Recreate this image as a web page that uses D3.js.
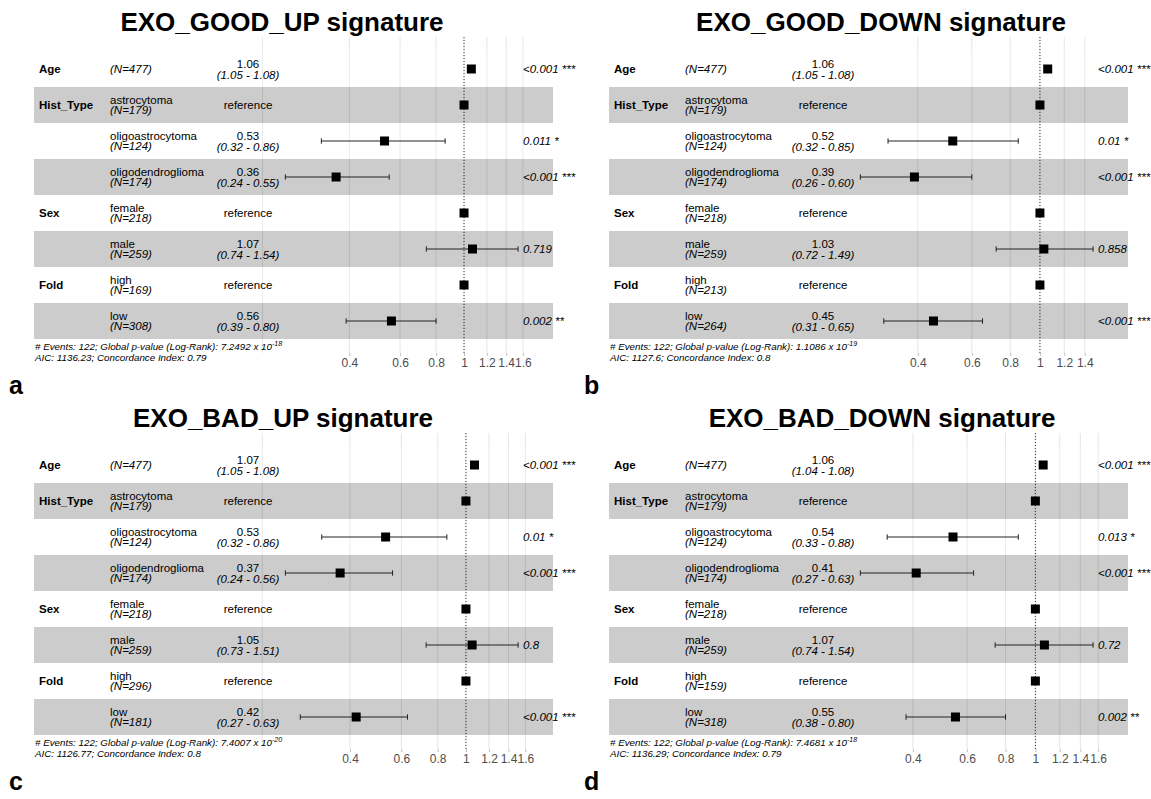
<!DOCTYPE html>
<html>
<head>
<meta charset="utf-8">
<script src="https://cdn.jsdelivr.net/npm/d3@7"></script>
<style>
  body { margin: 0; background: #fff; }
  svg { display: block; font-family: "Liberation Sans", Arial, sans-serif; }
</style>
</head>
<body>
<svg id="chart" width="1151" height="799"></svg>
<script>
"use strict";

// rows shared by all four models
const variables = ["Age", "Hist_Type", "", "", "Sex", "", "Fold", ""];
const levels = ["", "astrocytoma", "oligoastrocytoma", "oligodendroglioma", "female", "male", "high", "low"];

const titles = ["EXO_GOOD_UP signature", "EXO_GOOD_DOWN signature", "EXO_BAD_UP signature", "EXO_BAD_DOWN signature"];
const letters = ["a", "b", "c", "d"];

// N per row
const countsA = [477, 179, 124, 174, 218, 259, 169, 308];
const countsB = [477, 179, 124, 174, 218, 259, 213, 264];
const countsC = [477, 179, 124, 174, 218, 259, 296, 181];
const countsD = [477, 179, 124, 174, 218, 259, 159, 318];

// hazard ratios, null = reference level
const hrA = [1.06, null, 0.53, 0.36, null, 1.07, null, 0.56];
const hrB = [1.06, null, 0.52, 0.39, null, 1.03, null, 0.45];
const hrC = [1.07, null, 0.53, 0.37, null, 1.05, null, 0.42];
const hrD = [1.06, null, 0.54, 0.41, null, 1.07, null, 0.55];

const lowA = [1.05, null, 0.32, 0.24, null, 0.74, null, 0.39];
const lowB = [1.05, null, 0.32, 0.26, null, 0.72, null, 0.31];
const lowC = [1.05, null, 0.32, 0.24, null, 0.73, null, 0.27];
const lowD = [1.04, null, 0.33, 0.27, null, 0.74, null, 0.38];

const highA = [1.08, null, 0.86, 0.55, null, 1.54, null, 0.80];
const highB = [1.08, null, 0.85, 0.60, null, 1.49, null, 0.65];
const highC = [1.08, null, 0.86, 0.56, null, 1.51, null, 0.63];
const highD = [1.08, null, 0.88, 0.63, null, 1.54, null, 0.80];

const pvalA = ["<0.001 ***", "", "0.011 *", "<0.001 ***", "", "0.719", "", "0.002 **"];
const pvalB = ["<0.001 ***", "", "0.01 *", "<0.001 ***", "", "0.858", "", "<0.001 ***"];
const pvalC = ["<0.001 ***", "", "0.01 *", "<0.001 ***", "", "0.8", "", "<0.001 ***"];
const pvalD = ["<0.001 ***", "", "0.013 *", "<0.001 ***", "", "0.72", "", "0.002 **"];

// footnotes
const events = [122, 122, 122, 122];
const logRankBase = ["7.2492", "1.1086", "7.4007", "7.4681"];
const logRankExp = ["-18", "-19", "-20", "-18"];
const aic = ["1136.23", "1127.6", "1126.77", "1136.29"];
const concordance = ["0.79", "0.8", "0.8", "0.79"];

// axis breaks (grid) and the ones that carry a label
const gridA = [0.2, 0.4, 0.6, 0.8, 1, 1.2, 1.4, 1.6];
const gridB = [0.4, 0.6, 0.8, 1, 1.2, 1.4];
const gridC = [0.2, 0.4, 0.6, 0.8, 1, 1.2, 1.4, 1.6];
const gridD = [0.4, 0.6, 0.8, 1, 1.2, 1.4, 1.6];
const labelsA = [0.4, 0.6, 0.8, 1, 1.2, 1.4, 1.6];
const labelsB = [0.4, 0.6, 0.8, 1, 1.2, 1.4];
const labelsC = [0.4, 0.6, 0.8, 1, 1.2, 1.4, 1.6];
const labelsD = [0.4, 0.6, 0.8, 1, 1.2, 1.4, 1.6];

const panels = [
  { counts: countsA, hr: hrA, low: lowA, high: highA, pval: pvalA, grid: gridA, labels: labelsA },
  { counts: countsB, hr: hrB, low: lowB, high: highB, pval: pvalB, grid: gridB, labels: labelsB },
  { counts: countsC, hr: hrC, low: lowC, high: highC, pval: pvalC, grid: gridC, labels: labelsC },
  { counts: countsD, hr: hrD, low: lowD, high: highD, pval: pvalD, grid: gridD, labels: labelsD },
];

const origins = [[0, 0], [575, 0], [0, 396], [575, 396]];
const titleX = [282, 306, 283, 307];

const bandLeft = 34;
const bandRight = 553;
const rowTop = 51;
const rowH = 36;
const panelTop = 37;
const panelBottom = 353;
const fs = 11.5;

const svg = d3.select("#chart");

panels.forEach((p, k) => drawPanel(p, k));

function drawPanel(p, k) {
  const g = svg.append("g")
    .attr("transform", `translate(${origins[k][0]}, ${origins[k][1]})`);

  const rows = variables.map((v, i) => ({
    variable: v,
    level: levels[i],
    n: p.counts[i],
    hr: p.hr[i],
    low: p.low[i],
    high: p.high[i],
    pval: p.pval[i],
    ref: p.hr[i] === null,
  }));

  // same range logic as ggforest: wide margin on the left for the table
  const lo = Math.log(d3.min(p.low.filter(v => v !== null)));
  const hi = Math.log(d3.max(p.high.filter(v => v !== null)));
  const span = hi - lo;

  const x = d3.scaleLog()
    .domain([Math.exp(lo - 1.08 * span), Math.exp(hi + 0.15 * span)])
    .range([bandLeft, bandRight]);

  const y = d3.scaleBand()
    .domain(d3.range(rows.length))
    .range([rowTop, rowTop + rowH * rows.length]);
  const cy = i => y(i) + y.bandwidth() / 2;

  g.append("text")
    .attr("x", titleX[k])
    .attr("y", 31)
    .attr("text-anchor", "middle")
    .attr("font-size", 26)
    .attr("font-weight", "bold")
    .text(titles[k]);

  // grid
  g.selectAll("line.grid")
    .data(p.grid)
    .enter()
    .append("line")
    .attr("class", "grid")
    .attr("x1", d => x(d))
    .attr("x2", d => x(d))
    .attr("y1", panelTop)
    .attr("y2", panelBottom)
    .attr("stroke", "#dedede")
    .attr("stroke-width", 0.8);

  // axis below the panel
  const axis = d3.axisBottom(x)
    .tickValues(p.labels)
    .tickFormat(d3.format("~g"))
    .tickSize(3)
    .tickPadding(2);
  const ax = g.append("g")
    .attr("transform", `translate(0, ${panelBottom})`)
    .call(axis);
  ax.select(".domain").remove();
  ax.selectAll(".tick line").attr("stroke", "#b3b3b3").attr("stroke-width", 0.8);
  ax.selectAll(".tick text")
    .attr("font-size", 12)
    .attr("font-family", "Liberation Sans, Arial, sans-serif")
    .attr("fill", "#4d4d4d");

  // alternating row bands
  g.selectAll("rect.band")
    .data(rows)
    .enter()
    .append("rect")
    .attr("class", "band")
    .attr("x", bandLeft)
    .attr("width", bandRight - bandLeft)
    .attr("y", (d, i) => y(i))
    .attr("height", y.bandwidth())
    .attr("fill", (d, i) => i % 2 ? "rgba(0,0,0,0.2)" : "rgba(255,255,255,0.2)");

  // dotted line at HR = 1
  g.append("line")
    .attr("x1", x(1))
    .attr("x2", x(1))
    .attr("y1", panelTop)
    .attr("y2", panelBottom)
    .attr("stroke", "#222")
    .attr("stroke-width", 0.9)
    .attr("stroke-dasharray", "1,2");

  // error bars
  const ci = rows.map((d, i) => Object.assign({ i }, d)).filter(d => !d.ref);
  const bars = g.selectAll("g.bar")
    .data(ci)
    .enter()
    .append("g")
    .attr("class", "bar")
    .attr("stroke", "#222")
    .attr("stroke-width", 1);
  bars.append("line")
    .attr("x1", d => x(d.low))
    .attr("x2", d => x(d.high))
    .attr("y1", d => cy(d.i))
    .attr("y2", d => cy(d.i));
  bars.append("line")
    .attr("x1", d => x(d.low))
    .attr("x2", d => x(d.low))
    .attr("y1", d => cy(d.i) - 2.7)
    .attr("y2", d => cy(d.i) + 2.7);
  bars.append("line")
    .attr("x1", d => x(d.high))
    .attr("x2", d => x(d.high))
    .attr("y1", d => cy(d.i) - 2.7)
    .attr("y2", d => cy(d.i) + 2.7);

  // point estimates (reference levels sit at 1)
  const sq = 9;
  g.selectAll("rect.pt")
    .data(rows)
    .enter()
    .append("rect")
    .attr("class", "pt")
    .attr("x", d => x(d.ref ? 1 : d.hr) - sq / 2)
    .attr("y", (d, i) => cy(i) - sq / 2)
    .attr("width", sq)
    .attr("height", sq)
    .attr("fill", "#000");

  // table text
  const txt = g.append("g").attr("font-size", fs).attr("fill", "#000");

  txt.selectAll("text.var")
    .data(rows)
    .enter()
    .append("text")
    .attr("class", "var")
    .attr("x", 39)
    .attr("y", (d, i) => cy(i) + 4)
    .attr("font-weight", "bold")
    .text(d => d.variable);

  rows.forEach((d, i) => {
    if (d.level === "") {
      txt.append("text")
        .attr("x", 110)
        .attr("y", cy(i) + 4)
        .attr("font-style", "italic")
        .text(`(N=${d.n})`);
    } else {
      txt.append("text")
        .attr("x", 110)
        .attr("y", cy(i) - 1.5)
        .text(d.level);
      txt.append("text")
        .attr("x", 110)
        .attr("y", cy(i) + 9)
        .attr("font-style", "italic")
        .text(`(N=${d.n})`);
    }

    if (d.ref) {
      txt.append("text")
        .attr("x", 248)
        .attr("y", cy(i) + 4)
        .attr("text-anchor", "middle")
        .text("reference");
    } else {
      txt.append("text")
        .attr("x", 248)
        .attr("y", cy(i) - 1.5)
        .attr("text-anchor", "middle")
        .text(d.hr.toFixed(2));
      txt.append("text")
        .attr("x", 248)
        .attr("y", cy(i) + 10)
        .attr("text-anchor", "middle")
        .attr("font-style", "italic")
        .text(`(${d.low.toFixed(2)} - ${d.high.toFixed(2)})`);
      txt.append("text")
        .attr("x", x(Math.exp(hi)) + 5)
        .attr("y", cy(i) + 4)
        .attr("font-style", "italic")
        .text(d.pval);
    }
  });

  // footnote
  const foot = g.append("g")
    .attr("font-size", 9.8)
    .attr("font-style", "italic")
    .attr("fill", "#000");
  const l1 = foot.append("text").attr("x", 35).attr("y", 350);
  l1.append("tspan").text(`# Events: ${events[k]}; Global p-value (Log-Rank): ${logRankBase[k]} x 10`);
  l1.append("tspan").attr("dy", -4).attr("font-size", 7).text(logRankExp[k]);
  foot.append("text")
    .attr("x", 35)
    .attr("y", 361)
    .text(`AIC: ${aic[k]}; Concordance Index: ${concordance[k]}`);

  g.append("text")
    .attr("x", 9)
    .attr("y", 394)
    .attr("font-size", 25)
    .attr("font-weight", "bold")
    .text(letters[k]);
}
</script>
</body>
</html>
